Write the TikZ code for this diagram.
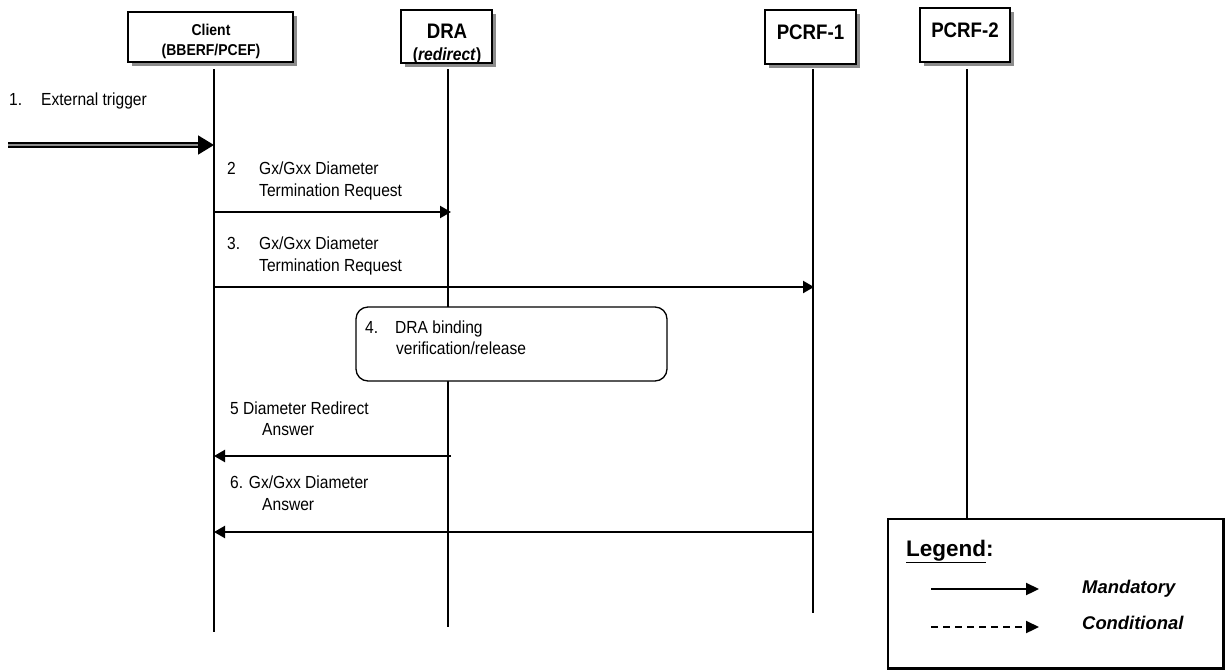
\documentclass[tikz,border=0pt]{standalone}
\usepackage{fontspec}
\setmainfont{Liberation Sans}[FakeStretch=0.89]
\newfontfamily\legfont{Liberation Sans}
\usetikzlibrary{arrows.meta,shadows}
\newcommand\msgfont{\fontsize{17.5}{22}\selectfont}

\begin{document}
\begin{tikzpicture}[x=1pt,y=-1pt,
  hdr/.style={draw,fill=white,line width=1.3pt,minimum width=#1,inner sep=0pt,
    drop shadow={shadow xshift=3.5pt,shadow yshift=-3.5pt,fill=black!45,opacity=1}},
  txt/.style={anchor=base west,inner sep=0pt,font=\msgfont},
  life/.style={line width=1.3pt},
  msg/.style={line width=2.2pt,-{Triangle[length=11pt,width=12pt]}}]
\useasboundingbox (0,0) rectangle (1225,670);
% entities
\node[hdr=165pt,minimum height=50pt] (cl) at (210.5,37) {};
\node[hdr=91pt,minimum height=53pt] (dra) at (446.5,36.5) {};
\node[hdr=91pt,minimum height=54pt] (pa) at (810.5,37) {};
\node[hdr=90pt,minimum height=54pt] (pb) at (965,35) {};
\node[anchor=base,inner sep=0pt,font=\fontsize{15.7}{18}\bfseries] (clt) at (211,35) {Client};
\node[anchor=base,inner sep=0pt,font=\fontsize{15.7}{18}\bfseries] (clu) at (211,55) {(BBERF/PCEF)};
\node[anchor=base,inner sep=0pt,font=\fontsize{21}{24}\bfseries] (drat) at (447,38) {DRA};
\node[anchor=base,inner sep=0pt,font=\fontsize{17.6}{20}\bfseries] (drau) at (447,60) {(\textit{redirect})};
\node[anchor=base,inner sep=0pt,font=\fontsize{21}{24}\bfseries] (pat) at (810.5,39) {PCRF-1};
\node[anchor=base,inner sep=0pt,font=\fontsize{21}{24}\bfseries] (pbt) at (965,37) {PCRF-2};
% lifelines
\coordinate (cl-top) at (214,69); \coordinate (cl-bot) at (214,632);
\coordinate (dra-top) at (448,69); \coordinate (dra-bot) at (448,627);
\coordinate (pa-top) at (813,69); \coordinate (pa-bot) at (813,613);
\coordinate (pb-top) at (967,69); \coordinate (pb-bot) at (967,519);
\draw[life] (cl-top)--(cl-bot); \draw[life] (dra-top)--(dra-bot);
\draw[life] (pa-top)--(pa-bot); \draw[life] (pb-top)--(pb-bot);
% 1. trigger
\node[txt] (s1n) at (9,105) {1.}; \node[txt] (s1t) at (41,105) {External trigger};
\coordinate (trg) at (8,145); \coordinate (cl-1) at (214,145);
\draw[line width=1.8pt,double=black!45,double distance=1.6pt,-{Triangle[length=16pt,width=19pt]}] (trg)--(cl-1);
% 2. and 3.
\node[txt] (s2n) at (227,174) {2}; \node[txt] (s2t) at (259,174) {Gx/Gxx Diameter};
\node[txt] (s2u) at (259,196) {Termination Request};
\coordinate (cl-2) at (214,212); \coordinate (dra-2) at (451,212);
\draw[msg] (cl-2)--(dra-2);
\node[txt] (s3n) at (227,249) {3.}; \node[txt] (s3t) at (259,249) {Gx/Gxx Diameter};
\node[txt] (s3u) at (259,271) {Termination Request};
\coordinate (cl-3) at (214,287); \coordinate (pa-3) at (814,287);
\draw[msg] (cl-3)--(pa-3);
% 4. binding box
\draw[line width=1.3pt,fill=white,rounded corners=12pt] (356,307) rectangle (667,381);
\node[txt] (s4n) at (365,333) {4.}; \node[txt] (s4t) at (395,333) {DRA binding};
\node[txt] (s4u) at (396,354) {verification/release};
% 5. and 6.
\node[txt] (s5t) at (230,414) {5 Diameter Redirect}; \node[txt] (s5u) at (262,435) {Answer};
\coordinate (dra-5) at (451,456); \coordinate (cl-5) at (214,456);
\draw[msg] (dra-5)--(cl-5);
\node[txt] (s6t) at (230,488) {6. Gx/Gxx Diameter}; \node[txt] (s6u) at (262,510) {Answer};
\coordinate (pa-6) at (814,532); \coordinate (cl-6) at (214,532);
\draw[msg] (pa-6)--(cl-6);
% legend
\draw[line width=2.6pt,fill=white] (888,519) rectangle (1223.5,668.5);
\node[anchor=base west,inner sep=0pt,font=\legfont\fontsize{22.5}{26}\bfseries] (leg) at (906,556) {\underline{Legend}:};
\coordinate (lm-a) at (931,589); \coordinate (lm-b) at (1039,589);
\coordinate (lc-a) at (931,627); \coordinate (lc-b) at (1039,627);
\draw[line width=2.2pt,-{Triangle[length=13pt,width=12pt]}] (lm-a)--(lm-b);
\draw[line width=2.2pt,dash pattern=on 7pt off 5pt,-{Triangle[length=13pt,width=12pt]}] (lc-a)--(lc-b);
\node[anchor=base west,inner sep=0pt,font=\legfont\fontsize{18.4}{22}\bfseries\itshape] (lm) at (1082,593) {Mandatory};
\node[anchor=base west,inner sep=0pt,font=\legfont\fontsize{18.4}{22}\bfseries\itshape] (lc) at (1082,629) {Conditional};
\end{tikzpicture}
\end{document}
